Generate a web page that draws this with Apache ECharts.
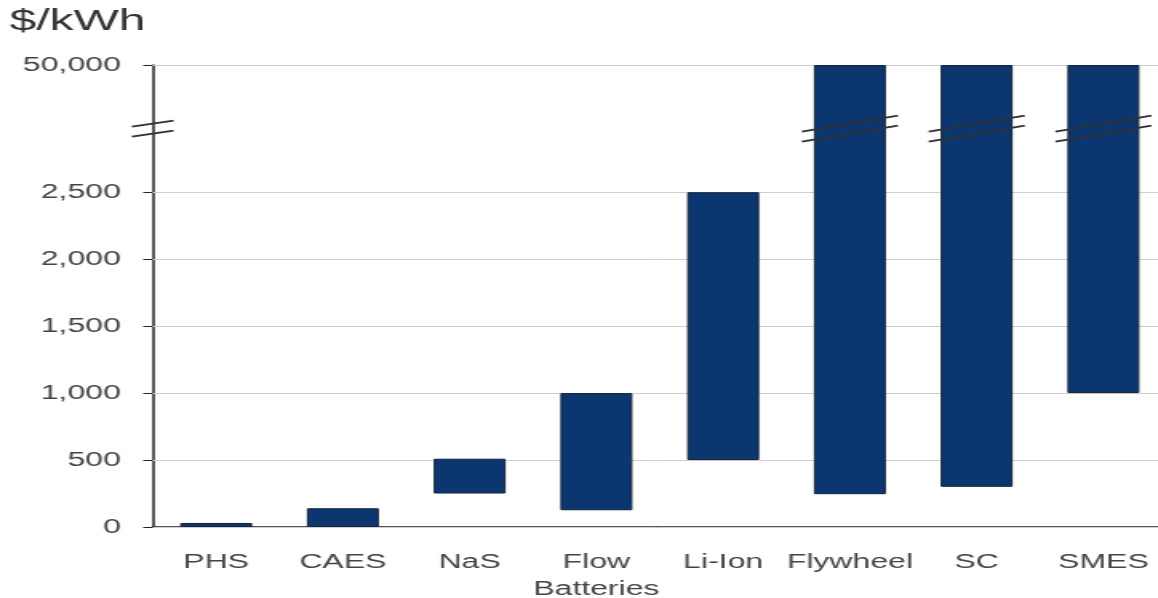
<!DOCTYPE html>
<html>
<head>
<meta charset="utf-8">
<script src="https://cdn.jsdelivr.net/npm/echarts@6/dist/echarts.min.js"></script>
<style>
  html, body { margin: 0; padding: 0; overflow: hidden; background: #fff; }
  /* the source picture is stretched sideways, so the chart is drawn narrow and widened */
  #main { width: 724px; height: 598px; transform: scaleX(1.5994); transform-origin: 0 0; }
</style>
</head>
<body>
<div id="main"></div>
<script>
const categories = ['PHS', 'CAES', 'NaS', 'Flow\nBatteries', 'Li-Ion', 'Flywheel', 'SC', 'SMES'];
const lowCost = [0, 0, 250, 125, 500, 245, 300, 1000];
const highCost = [30, 140, 510, 1000, 2500, 50000, 50000, 50000];
const yTicks = [0, 500, 1000, 1500, 2000, 2500, 50000];
const brokenBars = ['Flywheel', 'SC', 'SMES'];

// broken axis: linear up to 2,500, then squeezed up to 50,000
const breakStart = 2500;
const realTop = 50000;
const axisTop = 3450;
function toDisplay(v) {
    if (v <= breakStart) return v;
    return breakStart + (v - breakStart) / (realTop - breakStart) * (axisTop - breakStart);
}
function toReal(d) {
    if (d <= breakStart) return d;
    return breakStart + (d - breakStart) / (axisTop - breakStart) * (realTop - breakStart);
}
const breakAt = (breakStart + axisTop) / 2;

const base = lowCost.map(v => toDisplay(v));
const span = highCost.map((v, i) => toDisplay(v) - toDisplay(lowCost[i]));

const font = "'Liberation Sans', Arial, sans-serif";
const gridW = 634;
const myChart = echarts.init(document.getElementById('main'));

myChart.setOption({
    animation: false,
    title: {
        text: '$/kWh',
        left: 6,
        top: 7,
        padding: 0,
        textStyle: { fontFamily: font, fontSize: 30, fontWeight: 'normal', color: '#333' }
    },
    grid: { left: 95.5, top: 65, width: gridW, height: 462, outerBoundsMode: 'none' },
    xAxis: {
        type: 'category',
        data: categories,
        axisLine: { lineStyle: { color: '#222', width: 1.5 } },
        axisTick: { show: false },
        axisLabel: {
            margin: 22,
            interval: 0,
            fontFamily: font,
            fontSize: 20,
            lineHeight: 27,
            color: '#444'
        },
        splitLine: { show: false }
    },
    yAxis: {
        type: 'value',
        min: 0,
        max: axisTop,
        axisLine: { show: true, lineStyle: { color: '#222', width: 1.5 } },
        axisTick: { show: true, length: 6, customValues: yTicks.map(toDisplay), lineStyle: { color: '#222' } },
        axisLabel: {
            margin: 20,
            customValues: yTicks.map(toDisplay),
            fontFamily: font,
            fontSize: 20,
            color: '#444',
            formatter: val => Math.round(toReal(val)).toLocaleString('en-US')
        },
        splitLine: { show: false }
    },
    series: [
        {
            name: 'base',
            type: 'bar',
            stack: 'cost',
            barWidth: 45,
            data: base,
            itemStyle: { color: 'transparent' },
            silent: true,
            markLine: {
                z: 1,
                silent: true,
                symbol: 'none',
                label: { show: false },
                lineStyle: { color: '#cfcfcf', width: 1, type: 'solid' },
                data: yTicks.map(v => ({ yAxis: toDisplay(v) }))
            }
        },
        {
            name: 'cost range',
            type: 'bar',
            stack: 'cost',
            barWidth: 45,
            z: 3,
            data: span,
            itemStyle: { color: '#0b3670', borderColor: '#15233c', borderWidth: 1 }
        }
    ]
});

// break marks on the axis and the three tall bars
const gridLeft = myChart.convertToPixel({ xAxisIndex: 0 }, categories[0]) - gridW / categories.length / 2;
const yBreak = myChart.convertToPixel({ yAxisIndex: 0 }, breakAt);
const marks = [];
function pair(cx, half, rise) {
    [-5, 5].forEach(off => {
        marks.push({
            type: 'line',
            z: 100,
            silent: true,
            shape: { x1: cx - half, y1: yBreak + off + rise, x2: cx + half, y2: yBreak + off - rise },
            style: { stroke: '#333', lineWidth: 2 }
        });
    });
}
pair(gridLeft, 13, 3);
brokenBars.forEach(name => {
    pair(myChart.convertToPixel({ xAxisIndex: 0 }, name), 30, 8);
});
myChart.setOption({ graphic: marks });
</script>
</body>
</html>
